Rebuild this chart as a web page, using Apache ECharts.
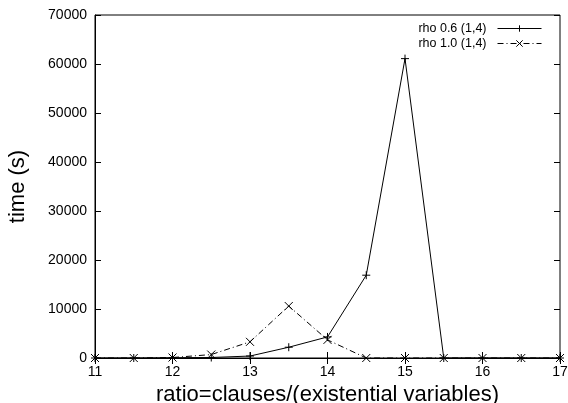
<!DOCTYPE html>
<html>
<head>
<meta charset="utf-8">
<script src="https://cdn.jsdelivr.net/npm/echarts@6/dist/echarts.min.js"></script>
<style>
html,body{margin:0;padding:0;background:#fff;}
#chart{width:568px;height:403px;}
</style>
</head>
<body>
<div id="chart"></div>
<script>
var FONT = "Liberation Sans";
var ratios = [11, 11.5, 12, 12.5, 13, 13.5, 14, 14.5, 15, 15.5, 16, 16.5, 17];
var rho06 = [0, 0, 50, 100, 400, 2200, 4300, 16900, 61100, 0, 0, 0, 0];
var rho10 = [0, 0, 100, 700, 3300, 10600, 3700, 0, 0, 0, 0, 0, 0];
var seriesNames = ["rho 0.6 (1,4)", "rho 1.0 (1,4)"];

var PLUS = "path://M0,5L10,5M5,0L5,10";
var CROSS = "path://M0,0L10,10M0,10L10,0";

function pairs(vals){
	return ratios.map(function(r, i){ return [r, vals[i]]; });
}

var chart = echarts.init(document.getElementById("chart"));
var tickStyle = { show: true, inside: true, length: 6, lineStyle: { color: "#000" } };
var option = {
	animation: false,
	backgroundColor: "#fff",
	textStyle: { fontFamily: FONT },
	grid: {
		left: 95, right: 8, top: 15, bottom: 45,
		outerBoundsMode: "none",
		containLabel: false,
		show: true, borderColor: "#000", borderWidth: 1
	},
	legend: {
		orient: "vertical",
		right: 21, top: 17,
		align: "right",
		itemGap: 2,
		itemWidth: 44, itemHeight: 8,
		lineStyle: { width: 1 },
		itemStyle: { borderWidth: 1 },
		textStyle: { fontFamily: FONT, fontSize: 12.5, color: "#000", padding: [0, 6, 0, 0] },
		data: seriesNames
	},
	xAxis: [{
		type: "value", min: 11, max: 17, interval: 1,
		name: "ratio=clauses/(existential variables)",
		nameLocation: "middle", nameGap: 18,
		nameTextStyle: { fontFamily: FONT, fontSize: 22, color: "#000" },
		axisLine: { lineStyle: { color: "#000" } },
		axisTick: tickStyle,
		axisLabel: { fontFamily: FONT, fontSize: 14, color: "#000", margin: 7 },
		splitLine: { show: false }
	}, {
		type: "value", min: 11, max: 17, interval: 1, position: "top",
		axisLine: { show: false }, axisTick: tickStyle,
		axisLabel: { show: false }, splitLine: { show: false }
	}],
	yAxis: [{
		type: "value", min: 0, max: 70000, interval: 10000,
		name: "time (s)",
		nameLocation: "middle", nameGap: 66, nameRotate: 90,
		nameTextStyle: { fontFamily: FONT, fontSize: 22, color: "#000" },
		axisLine: { lineStyle: { color: "#000" } },
		axisTick: tickStyle,
		axisLabel: {
			fontFamily: FONT, fontSize: 14, color: "#000", margin: 8,
			formatter: function(v){ return String(v); }
		},
		splitLine: { show: false }
	}, {
		type: "value", min: 0, max: 70000, interval: 10000, position: "right",
		axisLine: { show: false }, axisTick: tickStyle,
		axisLabel: { show: false }, splitLine: { show: false }
	}],
	series: [{
		name: seriesNames[0],
		type: "line",
		data: pairs(rho06),
		symbol: PLUS, symbolSize: 8,
		showAllSymbol: true,
		lineStyle: { color: "#000", width: 1 },
		itemStyle: { color: "#000", borderColor: "#000", borderWidth: 1 }
	}, {
		name: seriesNames[1],
		type: "line",
		data: pairs(rho10),
		symbol: CROSS, symbolSize: 8,
		showAllSymbol: true,
		lineStyle: { color: "#000", width: 1, type: [6, 3, 1, 3] },
		itemStyle: { color: "#000", borderColor: "#000", borderWidth: 1 }
	}]
};
chart.setOption(option);
</script>
</body>
</html>
